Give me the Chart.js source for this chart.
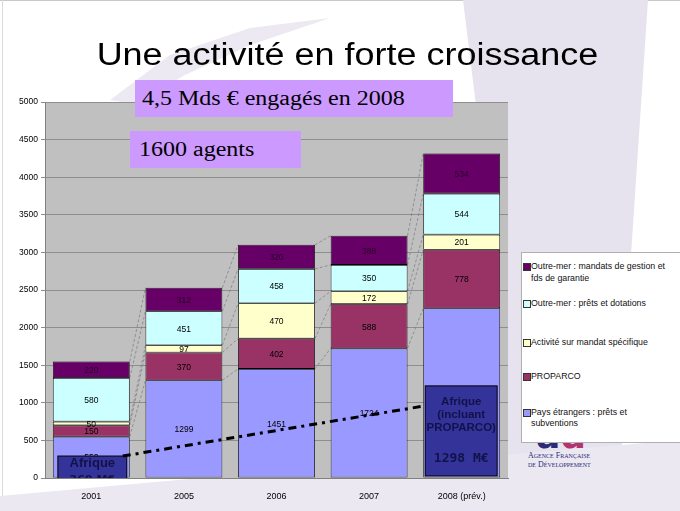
<!DOCTYPE html>
<html>
<head>
<meta charset="utf-8">
<script src="https://cdn.jsdelivr.net/npm/chart.js@4/dist/chart.umd.min.js"></script>
<style>
  body { margin: 0; }
  #slide { position: relative; width: 680px; height: 511px; overflow: hidden; background: #fff; font-family: 'Liberation Sans', Arial, sans-serif; }
  .bg { position: absolute; background: #e6e2ee; }
  #chart { position: absolute; left: 0; top: 0; }
  #title { position: absolute; left: 0; top: 39px; width: 695px; text-align: center; font-size: 31px; line-height: 31px; color: #000; transform: scaleX(1.16); transform-origin: 347.5px 0; }
  .note { position: absolute; background: #cc99ff; font-family: 'Liberation Serif', 'Times New Roman', serif; font-size: 20px; height: 37px; line-height: 37px; color: #000; white-space: nowrap; }
  .note span { display: inline-block; transform: scaleX(1.2); transform-origin: 0 0; }
  #legend { position: absolute; left: 521px; top: 252px; width: 170px; height: 189px; background: #fff; border: 1px solid #b0b0b0; }
  .item { position: absolute; left: 0; font-size: 8.8px; line-height: 11.5px; color: #111; white-space: nowrap; }
  .item i { position: absolute; left: 1px; top: 2px; width: 6px; height: 6px; border: 1px solid #333; }
  .item span { position: absolute; left: 9px; top: 0; }
  #logo { position: absolute; left: 536px; top: 418px; font-size: 36px; font-weight: bold; line-height: 36px; color: #2b2b78; font-family: 'DejaVu Sans', sans-serif; }
  #afd { position: absolute; left: 528px; top: 452px; font-family: 'Liberation Serif', serif; font-variant: small-caps; font-size: 8px; line-height: 8.5px; color: #2b2b78; }
</style>
</head>
<body>
<div id="slide">
  <div class="bg" style="left:0;top:0;width:680px;height:1px;background:#c8c8c8"></div>
  <div class="bg" style="left:2px;top:0;width:1px;height:511px;background:#dcdcdc"></div>
  <div class="bg" style="left:0;top:0;width:680px;height:511px;clip-path:polygon(463px 0,648px 0,636px 180px,626px 330px,620px 511px,420px 511px,500px 300px)"></div>
  <div class="bg" style="left:0;top:0;width:680px;height:511px;background:#ebe8f1;clip-path:polygon(0 511px,0 496px,200px 478px,420px 462px,680px 440px,680px 511px)"></div>
  <div class="bg" style="left:0;top:0;width:680px;height:511px;background:#ece9f2;clip-path:polygon(110px 100px,170px 55px,250px 28px,330px 18px,250px 45px,185px 75px,135px 104px)"></div>
  <div id="logo">a<span style="color:#b3336e">d</span></div>
  <div id="afd">Agence Française<br>de Développement</div>
  <canvas id="chart" width="680" height="511"></canvas>
  <div id="title">Une activité en forte croissance</div>
  <div class="note" style="left:135px;top:80px;width:311px;padding-left:7px"><span>4,5 Mds € engagés en 2008</span></div>
  <div class="note" style="left:130px;top:131px;width:162px;padding-left:9px"><span>1600 agents</span></div>
  <div id="legend"></div>
</div>
<script>
// Données (M€)
const years = ['2001', '2005', '2006', '2007', '2008 (prév.)'];
const paysEtrangers = [550, 1299, 1451, 1724, 2258];
const proparco = [150, 370, 402, 588, 778];
const mandatSpecifique = [50, 97, 470, 172, 201];
const omPrets = [580, 451, 458, 350, 544];
const omMandats = [220, 312, 320, 388, 534];
const yTicks = [0, 500, 1000, 1500, 2000, 2500, 3000, 3500, 4000, 4500, 5000];

const seriesNames = [
    'Pays étrangers : prêts et<br>subventions',
    'PROPARCO',
    'Activité sur mandat spécifique',
    'Outre-mer : prêts et dotations',
    'Outre-mer : mandats de gestion et<br>fds de garantie'
];
const colors = ['#9999ff', '#993366', '#ffffcc', '#ccffff', '#660066'];

// Légende (ordre inverse, comme Excel)
const legendTops = [405.5, 370, 335.5, 296.5, 260];
const legend = document.getElementById('legend');
seriesNames.forEach(function(name, i) {
    const d = document.createElement('div');
    d.className = 'item';
    d.style.top = (legendTops[i] - 252) + 'px';
    d.innerHTML = '<i style="background:' + colors[i] + '"></i><span>' + name + '</span>';
    legend.appendChild(d);
});

// Encadrés "Afrique"
const afriqueBoxes = [
    { cat: 0, top: 292, bottom: 0, inL: 5, inR: 3 },
    { cat: 4, top: 1225, bottom: 28, inL: 2, inR: 3 }
];

const plotBackground = {
    id: 'plotBackground',
    beforeDraw: function(chart) {
        const a = chart.chartArea;
        const ctx = chart.ctx;
        ctx.save();
        ctx.fillStyle = '#c0c0c0';
        ctx.fillRect(a.left, a.top, a.right - a.left, a.bottom - a.top);
        ctx.restore();
    }
};

// Lignes de séries entre les barres
const seriesLines = {
    id: 'seriesLines',
    beforeDatasetsDraw: function(chart) {
        const ctx = chart.ctx;
        ctx.save();
        ctx.strokeStyle = '#7a7a7a';
        ctx.lineWidth = 0.7;
        ctx.setLineDash([3, 2]);
        chart.data.datasets.forEach(function(ds, di) {
            const bars = chart.getDatasetMeta(di).data;
            for (let i = 0; i < bars.length - 1; i++) {
                ctx.beginPath();
                ctx.moveTo(bars[i].x + bars[i].width / 2, bars[i].y);
                ctx.lineTo(bars[i + 1].x - bars[i + 1].width / 2, bars[i + 1].y);
                ctx.stroke();
            }
        });
        ctx.restore();
    }
};

const valueLabels = {
    id: 'valueLabels',
    afterDatasetsDraw: function(chart) {
        const ctx = chart.ctx;
        ctx.save();
        ctx.font = "8.5px 'Liberation Sans', Arial";
        ctx.textAlign = 'center';
        ctx.textBaseline = 'middle';
        chart.data.datasets.forEach(function(ds, di) {
            chart.getDatasetMeta(di).data.forEach(function(bar, i) {
                ctx.fillStyle = di === 4 ? '#2a002a' : '#000';
                ctx.fillText(String(ds.data[i]), bar.x, (bar.y + bar.base) / 2 + 1);
            });
        });
        ctx.restore();
    }
};

const afrique = {
    id: 'afrique',
    afterDatasetsDraw: function(chart) {
        const ctx = chart.ctx;
        const y = chart.scales.y;
        const a = chart.chartArea;
        const bars = chart.getDatasetMeta(0).data;
        const rects = afriqueBoxes.map(function(b) {
            const bar = bars[b.cat];
            return {
                l: bar.x - bar.width / 2 + b.inL,
                r: bar.x + bar.width / 2 - b.inR,
                t: y.getPixelForValue(b.top),
                b: y.getPixelForValue(b.bottom)
            };
        });
        ctx.save();
        ctx.beginPath();
        ctx.rect(a.left, a.top, a.right - a.left, a.bottom - a.top);
        ctx.clip();
        rects.forEach(function(r, k) {
            ctx.fillStyle = '#333399';
            ctx.fillRect(r.l, r.t, r.r - r.l, r.b - r.t + (k === 0 ? 6 : 0));
            ctx.strokeStyle = '#000';
            ctx.lineWidth = 1;
            ctx.strokeRect(r.l, r.t, r.r - r.l, r.b - r.t + (k === 0 ? 6 : 0));
        });
        ctx.fillStyle = '#12124a';
        ctx.textAlign = 'center';
        ctx.textBaseline = 'middle';
        const r0 = rects[0], c0 = (r0.l + r0.r) / 2;
        ctx.font = "bold 13px 'Liberation Sans', Arial";
        ctx.fillText('Afrique', c0, r0.t + 7);
        ctx.font = "bold 11px 'DejaVu Sans'";
        ctx.fillText('369 M€', c0, r0.t + 24);
        const r1 = rects[1], c1 = (r1.l + r1.r) / 2;
        ctx.font = "bold 11.5px 'Liberation Sans', Arial";
        ctx.fillText('Afrique', c1, r1.t + 16);
        ctx.fillText('(incluant', c1, r1.t + 29);
        ctx.fillText('PROPARCO)', c1, r1.t + 42);
        ctx.font = "bold 13px 'DejaVu Sans Mono', monospace";
        ctx.fillText('1298 M€', c1, r1.t + 73);
        // Ligne de tendance Afrique
        ctx.strokeStyle = '#000';
        ctx.lineWidth = 3;
        ctx.setLineDash([8, 5, 3, 5]);
        ctx.beginPath();
        ctx.moveTo(r0.r - 4, r0.t);
        ctx.lineTo(r1.l, y.getPixelForValue(960));
        ctx.stroke();
        ctx.restore();
    }
};

const ds = [paysEtrangers, proparco, mandatSpecifique, omPrets, omMandats].map(function(values, i) {
    return {
        label: seriesNames[i].replace('<br>', ' '),
        data: values,
        backgroundColor: colors[i],
        borderColor: '#000',
        borderWidth: 0.8,
        borderSkipped: false,
        barPercentage: 0.83,
        categoryPercentage: 1
    };
});

new Chart(document.getElementById('chart'), {
    type: 'bar',
    data: { labels: years, datasets: ds },
    options: {
        responsive: false,
        animation: false,
        layout: { padding: { left: 0, right: 172, top: 102, bottom: 0 } },
        plugins: {
            legend: { display: false },
            tooltip: { enabled: false }
        },
        scales: {
            x: {
                stacked: true,
                grid: { display: false },
                border: { color: '#808080' },
                ticks: { color: '#000', font: { size: 9, family: "'Liberation Sans', Arial" }, padding: 5 },
                afterFit: function(scale) { scale.height = 33; }
            },
            y: {
                stacked: true,
                min: 0,
                max: 5000,
                afterBuildTicks: function(scale) {
                    scale.ticks = yTicks.map(function(v) { return { value: v }; });
                },
                grid: { color: '#8e8e8e', tickLength: 4 },
                border: { color: '#808080' },
                ticks: {
                    color: '#000',
                    font: { size: 8.5, family: "'Liberation Sans', Arial" },
                    padding: 3,
                    callback: function(value) { return String(value); }
                },
                afterFit: function(scale) { scale.width = 45; }
            }
        }
    },
    plugins: [plotBackground, seriesLines, valueLabels, afrique]
});
</script>
</body>
</html>
